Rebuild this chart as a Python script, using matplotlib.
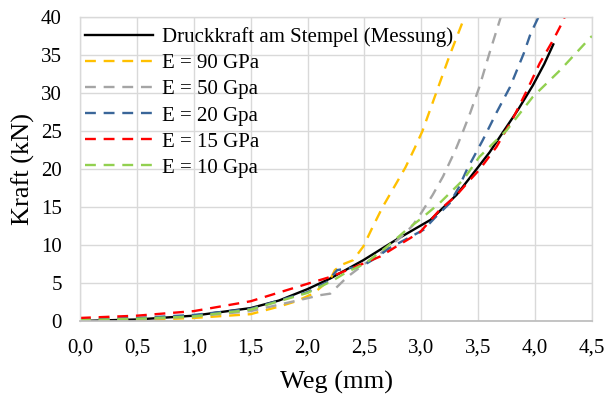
import matplotlib.pyplot as plt
from matplotlib.ticker import FuncFormatter

plt.rcParams['font.family'] = ['Liberation Serif', 'DejaVu Serif']

# Druckkraft am Stempel (Messung)
x_mess = [0.0, 0.5, 1.0, 1.5, 1.75, 2.0, 2.2, 2.49, 2.78, 3.08, 3.31, 3.45, 3.6, 3.72, 3.85, 3.98, 4.08, 4.16]
y_mess = [0.0, 0.2, 0.7, 1.7, 2.7, 4.2, 5.6, 8.0, 10.7, 13.3, 16.6, 19.3, 22.2, 24.9, 27.8, 31.0, 33.8, 36.4]

# E = 90 GPa
x_90 = [0.0, 0.5, 1.0, 1.5, 1.6, 1.75, 1.9, 2.05, 2.2, 2.24, 2.3, 2.4, 2.49, 2.57, 2.66,
        2.76, 2.86, 2.94, 3.01, 3.13, 3.25, 3.38, 3.42]
y_90 = [0.0, 0.1, 0.4, 0.9, 1.3, 1.9, 2.6, 3.6, 5.5, 6.7, 7.4, 8.0, 9.8, 12.3, 15.0,
        17.6, 20.2, 22.7, 25.0, 30.0, 35.0, 40.0, 41.5]

# E = 50 GPa
x_50 = [0.0, 0.5, 1.0, 1.5, 2.0, 2.11, 2.2, 2.26, 2.35, 2.49, 2.65, 2.81, 2.92, 2.99, 3.1,
        3.19, 3.3, 3.36, 3.43, 3.51, 3.6, 3.69, 3.72]
y_50 = [0.0, 0.2, 0.6, 1.3, 3.0, 3.4, 3.6, 4.5, 5.8, 7.4, 9.0, 10.9, 12.5, 14.0, 16.6,
        19.0, 22.5, 24.7, 27.4, 30.8, 35.3, 39.6, 41.0]

# E = 20 GPa
x_20 = [0.0, 0.5, 1.0, 1.5, 2.0, 2.17, 2.26, 2.43, 2.5, 2.6, 2.72, 2.87, 3.02, 3.12, 3.25,
        3.33, 3.4, 3.54, 3.66, 3.78, 3.9, 3.96, 4.03, 4.06]
y_20 = [0.2, 0.4, 0.8, 1.6, 3.8, 5.1, 6.7, 7.1, 7.4, 8.3, 9.6, 10.8, 12.0, 13.6, 15.5,
        17.6, 19.9, 23.8, 27.4, 30.8, 35.2, 37.8, 40.0, 41.0]

# E = 15 GPa
x_15 = [0.0, 0.5, 1.0, 1.5, 2.0, 2.2, 2.4, 2.64, 2.78, 2.99, 3.16, 3.3, 3.43, 3.51, 3.66,
        3.81, 3.93, 4.04, 4.16, 4.25, 4.28]
y_15 = [0.4, 0.7, 1.3, 2.6, 4.9, 5.8, 7.0, 8.5, 9.8, 11.7, 14.6, 16.4, 18.6, 19.9, 22.9,
        26.8, 30.4, 33.9, 37.0, 39.6, 41.0]

# E = 10 GPa
x_10 = [0.0, 0.5, 1.0, 1.5, 2.0, 2.22, 2.34, 2.5, 2.7, 2.87, 3.0, 3.16, 3.37, 3.51, 3.75,
        3.98, 4.22, 4.48, 4.5]
y_10 = [0.1, 0.3, 0.6, 1.5, 3.7, 5.3, 6.4, 7.5, 9.8, 12.0, 13.5, 15.5, 18.6, 21.6, 25.1,
        29.5, 33.0, 37.2, 37.5]

x_ticks = [0.0, 0.5, 1.0, 1.5, 2.0, 2.5, 3.0, 3.5, 4.0, 4.5]
y_ticks = [0, 5, 10, 15, 20, 25, 30, 35, 40]

fig = plt.figure(figsize=(6.14, 3.99), dpi=100)
ax = fig.add_axes([80 / 614, 1 - 321 / 399, 512 / 614, 304 / 399])

lw = 1.7
dash = (4.6, 3.3)
ax.plot(x_mess, y_mess, color='black', lw=lw, label='Druckkraft am Stempel (Messung)')
ax.plot(x_90, y_90, color='#FFC000', lw=lw, dashes=dash, label='E = 90 GPa')
ax.plot(x_50, y_50, color='#A5A5A5', lw=lw, dashes=dash, label='E = 50 Gpa')
ax.plot(x_20, y_20, color='#3A6699', lw=lw, dashes=dash, label='E = 20 Gpa')
ax.plot(x_15, y_15, color='#FF0000', lw=lw, dashes=dash, label='E = 15 GPa')
ax.plot(x_10, y_10, color='#92D050', lw=lw, dashes=dash, label='E = 10 Gpa')

ax.set_xlim(0, 4.5)
ax.set_ylim(0, 40)
ax.set_xticks(x_ticks)
ax.set_yticks(y_ticks)
ax.xaxis.set_major_formatter(FuncFormatter(lambda v, p: f'{v:.1f}'.replace('.', ',')))
ax.tick_params(axis='both', length=0, labelsize=15)
ax.tick_params(axis='x', pad=12.5)
ax.tick_params(axis='y', pad=13)
ax.grid(True, color='#D9D9D9', lw=1.0)
ax.set_axisbelow(True)
for s in ax.spines.values():
    s.set_color('#D9D9D9')
    s.set_linewidth(1.0)
ax.spines['bottom'].set_color('#BFBFBF')
ax.spines['bottom'].set_linewidth(1.3)

ax.set_xlabel('Weg (mm)', fontsize=19, labelpad=10)
ax.set_ylabel('Kraft (kN)', fontsize=19, labelpad=4)

ax.legend(loc='upper left', bbox_to_anchor=(85 / 614, 1 - 27.5 / 399),
          bbox_transform=fig.transFigure, frameon=False, fontsize=15,
          borderpad=0, borderaxespad=0, handlelength=3.27, handletextpad=0.43,
          labelspacing=0.31)

fig.savefig('out.png', dpi=100)
